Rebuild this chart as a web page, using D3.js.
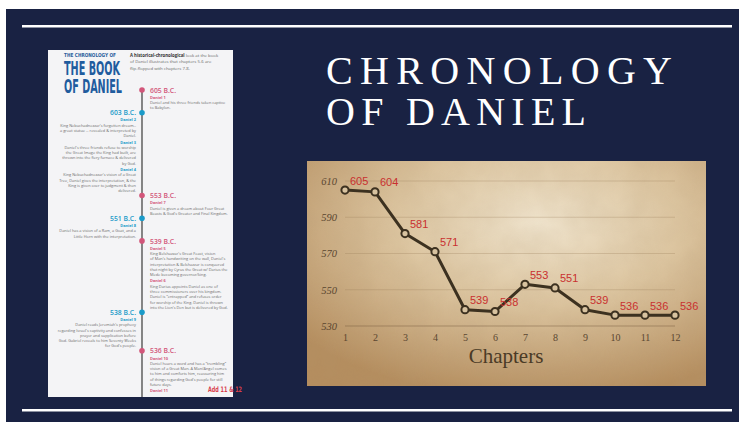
<!DOCTYPE html>
<html>
<head>
<meta charset="utf-8">
<script src="https://cdn.jsdelivr.net/npm/d3@7"></script>
<style>
  body { margin: 0; background: #fff; }
  svg { display: block; }
</style>
</head>
<body>
<script>
// chart data
var chapters = [1, 2, 3, 4, 5, 6, 7, 8, 9, 10, 11, 12];
var years = [605, 604, 581, 571, 539, 538, 553, 551, 539, 536, 536, 536];
var yTicks = [530, 550, 570, 590, 610];

// infographic content (left card)
var introBold = "A historical-chronological";
var introLines = [" look at the book", "of Daniel illustrates that chapters 5-6 are", "flip-flopped with chapters 7-8."];
var eventYears = ["605 B.C.", "603 B.C.", "553 B.C.", "551 B.C.", "539 B.C.", "538 B.C.", "536 B.C."];
var eventSides = ["right", "left", "right", "left", "right", "left", "right"];
var eventChapters = [
    [{ label: "Daniel 1", lines: ["Daniel and his three friends taken captive", "to Babylon."] }],
    [{ label: "Daniel 2", lines: ["King Nebuchadnezzar's forgotten dream--", "a great statue -- revealed & interpreted by", "Daniel."] },
     { label: "Daniel 3", lines: ["Daniel's three friends refuse to worship", "the Great Image the King had built, are", "thrown into the fiery furnace & delivered", "by God."] },
     { label: "Daniel 4", lines: ["King Nebuchadnezzar's vision of a Great", "Tree, Daniel gives the interpretation, & the", "King is given over to judgment & then", "delivered."] }],
    [{ label: "Daniel 7", lines: ["Daniel is given a dream about Four Great", "Beasts & God's Greater and Final Kingdom."] }],
    [{ label: "Daniel 8", lines: ["Daniel has a vision of a Ram, a Goat, and a", "Little Horn with the interpretation."] }],
    [{ label: "Daniel 5", lines: ["King Belshazzar's Great Feast, vision", "of Man's handwriting on the wall, Daniel's", "interpretation & Belshazzar is conquered", "that night by Cyrus the Great w/ Darius the", "Mede becoming governor/king."] },
     { label: "Daniel 6", lines: ["King Darius appoints Daniel as one of", "three commissioners over his kingdom.", "Daniel is \u201centrapped\u201d and refuses order", "for worship of the King. Daniel is thrown", "into the Lion's Den but is delivered by God."] }],
    [{ label: "Daniel 9", lines: ["Daniel reads Jeremiah's prophecy", "regarding Israel's captivity and confesses in", "prayer and supplication before", "God. Gabriel reveals to him Seventy Weeks", "for God's people."] }],
    [{ label: "Daniel 10", lines: ["Daniel hears a word and has a \u201ctrembling\u201d", "vision of a Great Man. A Man/Angel comes", "to him and comforts him, reassuring him", "of things regarding God's people for still", "future days."] },
     { label: "Daniel 11", lines: [] }]
];

var width = 739, height = 422;
var navy = "#192243", pink = "#d2567a", blue = "#1b9bc9";

var svg = d3.select("body").append("svg")
    .attr("width", width)
    .attr("height", height);

var defs = svg.append("defs");

// slide background + rules
svg.append("rect").attr("x", 6).attr("y", 9).attr("width", width - 6).attr("height", height - 9).attr("fill", navy);
svg.append("rect").attr("x", 22).attr("y", 25).attr("width", 710).attr("height", 2.5).attr("fill", "#fff");
svg.append("rect").attr("x", 22).attr("y", 409).attr("width", 710).attr("height", 2.5).attr("fill", "#fff");

// title
var title = svg.append("g").attr("fill", "#fff")
    .style("font-family", "'Liberation Serif', 'DejaVu Serif', serif")
    .style("font-size", "40px");
title.append("text").attr("x", 326).attr("y", 84)
    .attr("textLength", 346).attr("lengthAdjust", "spacing").text("CHRONOLOGY");
title.append("text").attr("x", 326).attr("y", 125)
    .attr("textLength", 260).attr("lengthAdjust", "spacing").text("OF DANIEL");

// ---------- left card (infographic) ----------
var card = { x: 48, y: 50, w: 185, h: 347 };
defs.append("clipPath").attr("id", "cardClip")
    .append("rect").attr("x", card.x).attr("y", card.y).attr("width", card.w).attr("height", card.h);

var info = svg.append("g").attr("clip-path", "url(#cardClip)")
    .style("font-family", "'Open Sans', 'Noto Sans', sans-serif");
info.append("rect").attr("x", card.x).attr("y", card.y).attr("width", card.w).attr("height", card.h).attr("fill", "#f4f4f6");

var headFont = "'Liberation Sans Narrow', 'DejaVu Sans Condensed', 'Roboto', sans-serif";
info.append("text").attr("x", 64).attr("y", 56.5).attr("textLength", 52).attr("lengthAdjust", "spacingAndGlyphs")
    .style("font-family", headFont).style("font-weight", "bold").style("font-size", "5.5px")
    .attr("fill", "#2b5e9c").text("THE CHRONOLOGY OF");
info.append("text").attr("x", 64).attr("y", 74.5).attr("textLength", 56).attr("lengthAdjust", "spacingAndGlyphs")
    .style("font-family", headFont).style("font-weight", "bold").style("font-size", "19px")
    .attr("fill", "#1f5c9e").text("THE BOOK");
info.append("text").attr("x", 64).attr("y", 93).attr("textLength", 58).attr("lengthAdjust", "spacingAndGlyphs")
    .style("font-family", headFont).style("font-weight", "bold").style("font-size", "19px")
    .attr("fill", "#1f5c9e").text("OF DANIEL");

var intro = info.append("g").style("font-size", "4.3px").attr("fill", "#6a6a6a");
introLines.forEach(function (line, i) {
    var t = intro.append("text").attr("x", 130).attr("y", 56.5 + i * 6.6);
    if (i === 0) {
        t.append("tspan").style("font-weight", "bold").attr("fill", "#333").text(introBold);
    }
    t.append("tspan").text(line);
});

// timeline layout: each event starts where the previous block ends
var lineX = 142, leftX = 136, rightX = 150, lineH = 5.3;
var cursor = 90, dots = [];
eventYears.forEach(function (yr, i) {
    var dotY = cursor;
    var y = dotY + 8.7;
    var blocks = [];
    eventChapters[i].forEach(function (ch, j) {
        if (j > 0) y += 6.2;
        var lines = ch.lines.map(function (l, k) { return { text: l, y: y + (k + 1) * lineH }; });
        blocks.push({ label: ch.label, y: y, lines: lines });
        y += ch.lines.length * lineH;
    });
    dots.push({ year: yr, side: eventSides[i], y: dotY, blocks: blocks });
    cursor = y + 3.4;
});

info.append("line").attr("x1", lineX).attr("x2", lineX).attr("y1", dots[0].y).attr("y2", card.y + card.h)
    .attr("stroke", "#555").attr("stroke-width", 1.4);

var ev = info.selectAll("g.event").data(dots).enter().append("g").attr("class", "event");
ev.append("circle").attr("cx", lineX).attr("cy", d => d.y).attr("r", 2.8)
    .attr("fill", d => d.side === "right" ? pink : blue);
ev.append("text")
    .attr("x", d => d.side === "right" ? rightX : leftX)
    .attr("y", d => d.y + 2.6)
    .attr("text-anchor", d => d.side === "right" ? "start" : "end")
    .attr("textLength", 26).attr("lengthAdjust", "spacingAndGlyphs")
    .style("font-size", "7.4px").style("font-weight", 600)
    .attr("fill", d => d.side === "right" ? pink : blue)
    .text(d => d.year);

ev.each(function (d) {
    var g = d3.select(this);
    var x = d.side === "right" ? rightX : leftX;
    var anchor = d.side === "right" ? "start" : "end";
    d.blocks.forEach(function (b) {
        g.append("text").attr("x", x).attr("y", b.y).attr("text-anchor", anchor)
            .style("font-size", "3.9px").style("font-weight", "bold")
            .attr("fill", d.side === "right" ? pink : blue).text(b.label);
        b.lines.forEach(function (l) {
            g.append("text").attr("x", x).attr("y", l.y).attr("text-anchor", anchor)
                .style("font-size", "3.9px").attr("fill", "#6b6b6b").text(l.text);
        });
    });
});

svg.append("text").attr("x", 208).attr("y", 391.5).attr("textLength", 34).attr("lengthAdjust", "spacingAndGlyphs")
    .style("font-family", headFont).style("font-weight", "bold").style("font-size", "7.5px")
    .attr("fill", "#d8404c").text("Add 11 & 12");

// ---------- parchment line chart ----------
var panel = { x: 307, y: 161, w: 399, h: 225 };
var grad = defs.append("radialGradient").attr("id", "parch")
    .attr("cx", "58%").attr("cy", "28%").attr("r", "78%");
grad.append("stop").attr("offset", "0%").attr("stop-color", "#efe3cc");
grad.append("stop").attr("offset", "45%").attr("stop-color", "#dcc5a0");
grad.append("stop").attr("offset", "100%").attr("stop-color", "#b48d5e");

var noise = defs.append("filter").attr("id", "grain").attr("x", 0).attr("y", 0).attr("width", "100%").attr("height", "100%");
noise.append("feTurbulence").attr("type", "fractalNoise").attr("baseFrequency", 0.035).attr("numOctaves", 3).attr("seed", 4);
noise.append("feColorMatrix").attr("type", "matrix")
    .attr("values", "0 0 0 0 0.45  0 0 0 0 0.32  0 0 0 0 0.18  0 0 0 0.35 -0.08");

svg.append("rect").attr("x", panel.x).attr("y", panel.y).attr("width", panel.w).attr("height", panel.h).attr("fill", "url(#parch)");
svg.append("rect").attr("x", panel.x).attr("y", panel.y).attr("width", panel.w).attr("height", panel.h)
    .attr("filter", "url(#grain)").attr("opacity", 0.6);

var x = d3.scaleLinear().domain([1, 12]).range([345, 675]);
var y = d3.scaleLinear().domain([530, 610]).range([326, 181]);

var ink = "#3c3120";
var chart = svg.append("g");

chart.append("g").selectAll("line").data(yTicks).enter().append("line")
    .attr("x1", x(1)).attr("x2", x(12))
    .attr("y1", d => y(d)).attr("y2", d => y(d))
    .attr("stroke", d => d === 530 ? "rgba(110,85,55,0.55)" : "rgba(150,120,85,0.35)")
    .attr("stroke-width", 0.8);

var yAxis = d3.axisLeft(y).tickValues(yTicks).tickSize(0).tickPadding(0);
var yG = chart.append("g").attr("transform", "translate(337,0)").call(yAxis);
yG.select(".domain").remove();
yG.selectAll("text").attr("fill", "#5a4630")
    .style("font-family", "'Liberation Serif', 'DejaVu Serif', serif")
    .style("font-style", "italic").style("font-size", "10.5px");

var xAxis = d3.axisBottom(x).tickValues(chapters).tickFormat(d3.format("d")).tickSize(0).tickPadding(0);
var xG = chart.append("g").attr("transform", "translate(0,334)").call(xAxis);
xG.select(".domain").remove();
xG.selectAll("text").attr("fill", "#5a4630")
    .style("font-family", "'Liberation Serif', 'DejaVu Serif', serif")
    .style("font-size", "10px");

chart.append("text").attr("x", 506).attr("y", 363).attr("text-anchor", "middle")
    .attr("fill", "#4a3a26")
    .style("font-family", "'Liberation Serif', 'DejaVu Serif', serif")
    .style("font-size", "21px").text("Chapters");

var pts = chapters.map((c, i) => [c, years[i]]);
chart.append("path").datum(pts)
    .attr("d", d3.line().x(d => x(d[0])).y(d => y(d[1])))
    .attr("fill", "none").attr("stroke", ink).attr("stroke-width", 3).attr("stroke-linejoin", "round");

chart.selectAll("circle.pt").data(pts).enter().append("circle").attr("class", "pt")
    .attr("cx", d => x(d[0])).attr("cy", d => y(d[1])).attr("r", 3.6)
    .attr("fill", "#d8c3a0").attr("stroke", ink).attr("stroke-width", 2);

chart.selectAll("text.val").data(pts).enter().append("text").attr("class", "val")
    .attr("x", d => x(d[0]) + 5).attr("y", d => y(d[1]) - 5.5)
    .attr("fill", "#c9302f")
    .style("font-family", "'Liberation Sans', Arial, sans-serif").style("font-size", "11px")
    .text(d => d[1]);
</script>
</body>
</html>
